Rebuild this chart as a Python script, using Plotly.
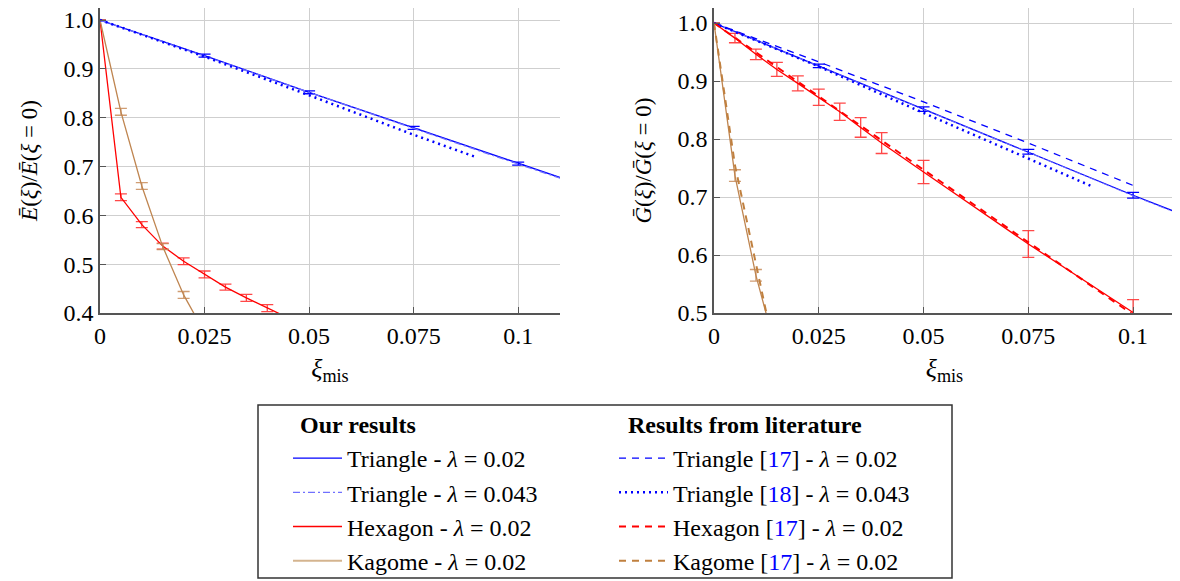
import plotly.graph_objects as go

# ---------------- data ----------------
# Left panel: E(xi)/E(0)
tri_x = [0, 0.025, 0.05, 0.075, 0.1, 0.125]
tri_E = [1.0, 0.927, 0.852, 0.779, 0.706, 0.634]
tri_E_err = [0, 0.003, 0.003, 0.003, 0.003, 0]
tri043_E = [1.0, 0.926, 0.851, 0.778, 0.705, 0.633]

hex_x = [0, 0.005, 0.01, 0.015, 0.02, 0.025, 0.03, 0.035, 0.04, 0.045]
hex_E = [1.0, 0.637, 0.581, 0.537, 0.506, 0.479, 0.453, 0.431, 0.41, 0.39]
hex_E_err = [0, 0.007, 0.006, 0.006, 0.007, 0.007, 0.006, 0.007, 0.007, 0.007]

kag_x = [0, 0.005, 0.01, 0.015, 0.02, 0.025]
kag_E = [1.0, 0.812, 0.66, 0.536, 0.437, 0.36]
kag_E_err = [0, 0.007, 0.007, 0.006, 0.007, 0.007]

lit18_x = [0, 0.025, 0.05, 0.075, 0.09]
lit18_E = [1.0, 0.925, 0.846, 0.765, 0.719]

# Right panel: G(xi)/G(0)
tri_G = [1.0, 0.926, 0.8515, 0.778, 0.703, 0.632]
tri_G_err = [0, 0.003, 0.004, 0.004, 0.005, 0]
tri043_G = [1.0, 0.925, 0.851, 0.777, 0.702, 0.631]

hexG_x = [0, 0.005, 0.01, 0.015, 0.02, 0.025, 0.03, 0.035, 0.04, 0.05, 0.075, 0.1]
hex_G = [1.0, 0.974, 0.946, 0.920, 0.896, 0.872, 0.847, 0.820, 0.793, 0.743, 0.619, 0.501]
hex_G_err = [0, 0.008, 0.009, 0.012, 0.013, 0.014, 0.015, 0.017, 0.018, 0.020, 0.023, 0.022]

kagG_x = [0, 0.005, 0.01, 0.015]
kag_G = [1.0, 0.737, 0.565, 0.43]
kag_G_err = [0, 0.01, 0.01, 0.01]

lit17_tri_x = [0, 0.025, 0.05, 0.075, 0.1]
lit17_tri_G = [1.0, 0.933, 0.864, 0.793, 0.72]
lit18_G = [1.0, 0.925, 0.845, 0.767, 0.719]
lit17_hex_x = [0, 0.025, 0.05, 0.075, 0.1]
lit17_hex_G = [1.0, 0.873, 0.747, 0.622, 0.497]
lit17_kag_x = [0, 0.005, 0.01, 0.0125]
lit17_kag_G = [1.0, 0.755, 0.585, 0.5]

x_tickvals = [0, 0.025, 0.05, 0.075, 0.1]
x_ticktext = ["0", "0.025", "0.05", "0.075", "0.1"]
yE_tickvals = [0.4, 0.5, 0.6, 0.7, 0.8, 0.9, 1.0]
yG_tickvals = [0.5, 0.6, 0.7, 0.8, 0.9, 1.0]

# ---------------- styles ----------------
BLUE = "#0000ff"
LBLUE = "#7070ff"
RED = "#ff0000"
KAG = "#bf8550"
KAG_LIGHT = "#d4b48f"
KAG_D = "#c0803f"
FONT = "Liberation Serif"

# page has an 8px body margin: figure is sized/placed to compensate
OFF = 8
W, H = 1180 - OFF, 581 - OFF


def px(x):
    return (x - OFF) / W


def py(y):
    return 1 - (y - OFF) / H


fig = go.Figure()


def err(vals, color):
    return dict(type="data", array=vals, visible=True, color=color, thickness=1.3, width=6)


lam = "<i>λ</i>"

# left panel
fig.add_trace(go.Scatter(x=tri_x, y=tri_E, mode="lines", line=dict(color=BLUE, width=1.3),
                         error_y=err(tri_E_err, BLUE), xaxis="x", yaxis="y",
                         name=f"Triangle - {lam} = 0.02", legend="legend"))
fig.add_trace(go.Scatter(x=tri_x, y=tri043_E, mode="lines", line=dict(color=LBLUE, width=1.3, dash="7px,3px,2px,3px"),
                         xaxis="x", yaxis="y", name=f"Triangle - {lam} = 0.043", legend="legend"))
fig.add_trace(go.Scatter(x=hex_x, y=hex_E, mode="lines", line=dict(color=RED, width=1.3),
                         error_y=err(hex_E_err, "rgba(255,40,40,0.85)"), xaxis="x", yaxis="y",
                         name=f"Hexagon - {lam} = 0.02", legend="legend"))
fig.add_trace(go.Scatter(x=kag_x, y=kag_E, mode="lines", line=dict(color=KAG, width=1.3),
                         error_y=err(kag_E_err, "rgba(200,140,90,0.85)"), xaxis="x", yaxis="y",
                         name="kag", legend="legend", showlegend=False))
fig.add_trace(go.Scatter(x=lit18_x, y=lit18_E, mode="lines", line=dict(color=BLUE, width=2.5, dash="2px,4px"),
                         xaxis="x", yaxis="y", showlegend=False, name="lit18"))
# legend-only kagome sample (lighter)
fig.add_trace(go.Scatter(x=[None], y=[None], mode="lines", line=dict(color=KAG_LIGHT, width=2),
                         xaxis="x", yaxis="y", name=f"Kagome - {lam} = 0.02", legend="legend"))

# right panel
fig.add_trace(go.Scatter(x=tri_x, y=tri_G, mode="lines", line=dict(color=BLUE, width=1.3),
                         error_y=err(tri_G_err, BLUE), xaxis="x2", yaxis="y2", showlegend=False))
fig.add_trace(go.Scatter(x=tri_x, y=tri043_G, mode="lines", line=dict(color=LBLUE, width=1.0, dash="7px,3px,2px,3px"),
                         xaxis="x2", yaxis="y2", showlegend=False))
fig.add_trace(go.Scatter(x=hexG_x, y=hex_G, mode="lines", line=dict(color=RED, width=1.3),
                         error_y=err(hex_G_err, "rgba(255,40,40,0.85)"), xaxis="x2", yaxis="y2", showlegend=False))
fig.add_trace(go.Scatter(x=kagG_x, y=kag_G, mode="lines", line=dict(color=KAG, width=1.3),
                         error_y=err(kag_G_err, "rgba(200,140,90,0.85)"), xaxis="x2", yaxis="y2", showlegend=False))

ref17 = "[<span style='color:#0000ff'>17</span>]"
ref18 = "[<span style='color:#0000ff'>18</span>]"
fig.add_trace(go.Scatter(x=lit17_tri_x, y=lit17_tri_G, mode="lines", line=dict(color=BLUE, width=1.3, dash="7px,6px"),
                         xaxis="x2", yaxis="y2", name=f"Triangle {ref17} - {lam} = 0.02", legend="legend2"))
fig.add_trace(go.Scatter(x=lit18_x, y=lit18_G, mode="lines", line=dict(color=BLUE, width=2.5, dash="2px,4px"),
                         xaxis="x2", yaxis="y2", name=f"Triangle {ref18} - {lam} = 0.043", legend="legend2"))
fig.add_trace(go.Scatter(x=lit17_hex_x, y=lit17_hex_G, mode="lines", line=dict(color=RED, width=2, dash="7px,6px"),
                         xaxis="x2", yaxis="y2", name=f"Hexagon {ref17} - {lam} = 0.02", legend="legend2"))
fig.add_trace(go.Scatter(x=lit17_kag_x, y=lit17_kag_G, mode="lines", line=dict(color=KAG_D, width=2, dash="7px,6px"),
                         xaxis="x2", yaxis="y2", name=f"Kagome {ref17} - {lam} = 0.02", legend="legend2"))

AXC = "#555555"
GRID = "#cfcfcf"
TICK_SIZE = 24
LEG_SIZE = 24


def xax(domain, anchor):
    return dict(domain=domain, anchor=anchor, range=[0, 0.11], tickvals=x_tickvals, ticktext=x_ticktext,
                automargin=False, ticklabeloverflow="allow",
                showgrid=True, gridcolor=GRID, gridwidth=1, zeroline=False, showline=True, linecolor=AXC,
                linewidth=1.5, ticks="inside", ticklen=6, tickcolor=AXC,
                tickfont=dict(family=FONT, size=TICK_SIZE, color="black"),
                title=dict(text="<i>ξ</i><sub>mis</sub>", font=dict(family=FONT, size=26, color="black"), standoff=11))


def yax(domain, anchor, rng, vals, title):
    return dict(domain=domain, anchor=anchor, range=rng, tickvals=vals, ticktext=[f"{v:.1f}" for v in vals],
                automargin=False, ticklabeloverflow="allow",
                showgrid=True, gridcolor=GRID, gridwidth=1, zeroline=False, showline=True, linecolor=AXC,
                linewidth=1.5, ticks="inside", ticklen=6, tickcolor=AXC,
                tickfont=dict(family=FONT, size=TICK_SIZE, color="black"),
                title=dict(text=title, font=dict(family=FONT, size=23, color="black"), standoff=19))


ydom = [py(313), 1.0]
leg_common = dict(xanchor="left", yanchor="top", bgcolor="rgba(0,0,0,0)",
                  font=dict(family=FONT, size=LEG_SIZE, color="black"),
                  tracegroupgap=0, itemwidth=49, traceorder="normal")
fig.update_layout(
    width=W, height=H, margin=dict(l=0, r=0, t=0, b=0, autoexpand=False),
    plot_bgcolor="white", paper_bgcolor="white",
    font=dict(family=FONT, color="black", size=TICK_SIZE),
    xaxis=xax([px(100), px(560)], "y"),
    yaxis=yax(ydom, "x", [0.4, 1.0246], yE_tickvals, "<i>Ē</i>(<i>ξ</i>)/<i>Ē</i>(<i>ξ</i> = 0)"),
    xaxis2=xax([px(714), px(1175)], "y2"),
    yaxis2=yax(ydom, "x2", [0.5, 1.0259], yG_tickvals, "<i>Ḡ</i>(<i>ξ</i>)/<i>Ḡ</i>(<i>ξ</i> = 0)"),
    legend=dict(x=px(288), y=py(436), **leg_common),
    legend2=dict(x=px(614), y=py(436), **leg_common),
    shapes=[dict(type="rect", xref="paper", yref="paper", x0=px(258), x1=px(952), y0=py(578), y1=py(405),
                 line=dict(color="#333333", width=1.5), fillcolor="rgba(0,0,0,0)")],
    annotations=[
        dict(text="<b>Our results</b>", xref="paper", yref="paper", x=px(298), y=py(425),
             xanchor="left", yanchor="middle", showarrow=False, font=dict(family=FONT, size=LEG_SIZE, color="black")),
        dict(text="<b>Results from literature</b>", xref="paper", yref="paper", x=px(626), y=py(425),
             xanchor="left", yanchor="middle", showarrow=False, font=dict(family=FONT, size=LEG_SIZE, color="black")),
    ],
    showlegend=True,
)

fig.write_html("out.html")
